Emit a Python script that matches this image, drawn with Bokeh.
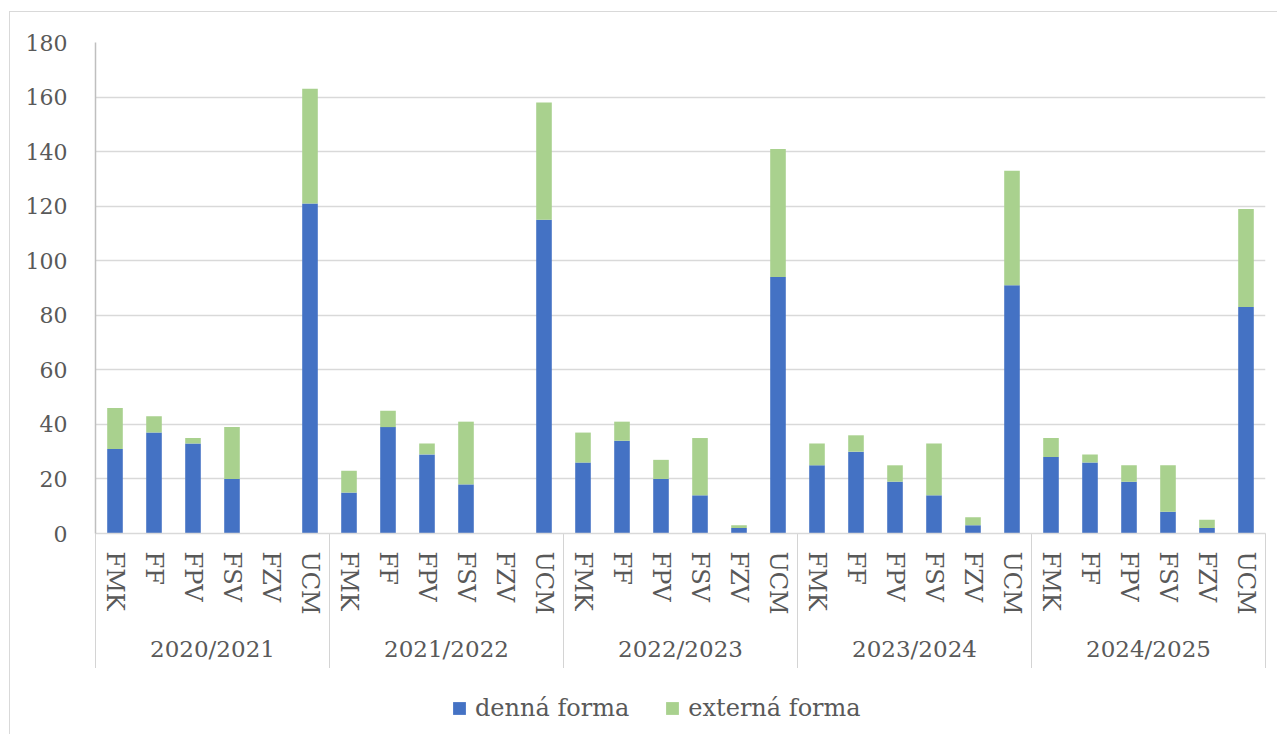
from bokeh.plotting import figure
from bokeh.layouts import column
from bokeh.models import (FactorRange, Range1d, FixedTicker, Legend, LegendItem,
                          ColumnDataSource)
from bokeh.embed import file_html
from bokeh.resources import INLINE

years = ["2020/2021", "2021/2022", "2022/2023", "2023/2024", "2024/2025"]
faculties = ["FMK", "FF", "FPV", "FSV", "FZV", "UCM"]

denna = [31, 37, 33, 20, 0, 121,
         15, 39, 29, 18, 0, 115,
         26, 34, 20, 14, 2, 94,
         25, 30, 19, 14, 3, 91,
         28, 26, 19, 8, 2, 83]
externa = [15, 6, 2, 19, 0, 42,
           8, 6, 4, 23, 0, 43,
           11, 7, 7, 21, 1, 47,
           8, 6, 6, 19, 3, 42,
           7, 3, 6, 17, 3, 36]
y_ticks = [0, 20, 40, 60, 80, 100, 120, 140, 160, 180]

series_names = ["denná forma", "externá forma"]
colors = ["#4472C4", "#A9D18E"]

FONT = "DejaVu Serif"
TXT = "#595959"
GRID = "#D9D9D9"

factors = [(y, f) for y in years for f in faculties]
src = ColumnDataSource(data=dict(x=factors, denna=denna, externa=externa))

W = 1277
H1, H2 = 680, 54
LEFT, RIGHT, TOP, BOTTOM = 95, 12, 42, 147
frame_w = W - LEFT - RIGHT
frame_bottom = H1 - BOTTOM
sep_len = 135

p = figure(x_range=FactorRange(*factors, factor_padding=0, group_padding=0, range_padding=0),
           y_range=Range1d(0, 180),
           width=W, height=H1, output_backend="svg", toolbar_location=None,
           min_border_left=LEFT, min_border_right=RIGHT, min_border_top=TOP,
           min_border_bottom=BOTTOM)

# chart-area border and group separators (decoration behind the transparent border fill)
layers = [f"linear-gradient({GRID},{GRID}) 9px 11px / 1px 100% no-repeat",
          f"linear-gradient({GRID},{GRID}) 9px 11px / 100% 1px no-repeat"]
n_groups = len(years)
for i in range(n_groups + 1):
    xs = LEFT + round(i * frame_w / n_groups)
    layers.append(f"linear-gradient(#D4D4D4,#D4D4D4) {xs}px {frame_bottom}px / 1px {sep_len}px no-repeat")
p.styles = {"background": ", ".join(layers) + ", white"}
p.border_fill_color = None
p.background_fill_color = "white"

rs = p.vbar_stack(["denna", "externa"], x="x", width=0.4, source=src,
                  color=colors, line_color=None)

p.outline_line_color = None
p.xgrid.grid_line_color = None
p.ygrid.grid_line_color = GRID
p.ygrid.grid_line_width = 1.5

p.yaxis.ticker = FixedTicker(ticks=y_ticks)
p.yaxis.axis_line_color = "#BFBFBF"
p.yaxis.axis_line_width = 1.5
p.yaxis.major_tick_line_color = None
p.yaxis.major_tick_out = 0
p.yaxis.minor_tick_line_color = None
p.yaxis.major_label_standoff = 28
p.yaxis.major_label_text_font = FONT
p.yaxis.major_label_text_font_size = "22px"
p.yaxis.major_label_text_color = TXT

ax = p.xaxis[0]
ax.axis_line_color = GRID
ax.axis_line_width = 1.5
ax.major_tick_line_color = None
ax.major_tick_out = 0
ax.minor_tick_line_color = None
ax.major_label_orientation = "vertical"
ax.major_label_standoff = 18
ax.major_label_text_font = FONT
ax.major_label_text_font_size = "24px"
ax.major_label_text_color = TXT
ax.group_text_font = FONT
ax.group_text_font_style = "normal"
ax.group_text_font_size = "23px"
ax.group_text_color = TXT
ax.separator_line_color = None

# legend strip below the chart (legend keys only; its zero-width bars stay invisible)
p2 = figure(width=W, height=H2, output_backend="svg", toolbar_location=None,
            x_range=FactorRange(*factors), y_range=Range1d(-2000, -1999),
            x_axis_type=None, y_axis_type=None,
            min_border_left=0, min_border_right=0, min_border_top=0, min_border_bottom=0)
p2.styles = {"background": f"linear-gradient({GRID},{GRID}) 9px 0px / 1px 100% no-repeat, white"}
p2.border_fill_color = None
p2.background_fill_color = None
p2.outline_line_color = None
p2.grid.visible = False
keys = p2.vbar_stack(["denna", "externa"], x="x", width=0, source=src,
                     color=colors, line_color=None)

items = [LegendItem(label=n, renderers=[r]) for n, r in zip(series_names, keys)]
legend = Legend(items=items, orientation="horizontal", location=(356, 12),
                padding=0, margin=0, spacing=35, label_standoff=8,
                glyph_width=16, glyph_height=16, label_height=20,
                label_text_font=FONT, label_text_font_size="24px",
                label_text_color=TXT, border_line_color=None,
                background_fill_alpha=0)
p2.add_layout(legend, "center")

open("out.html", "w").write(file_html(column(p, p2, spacing=0), INLINE))
